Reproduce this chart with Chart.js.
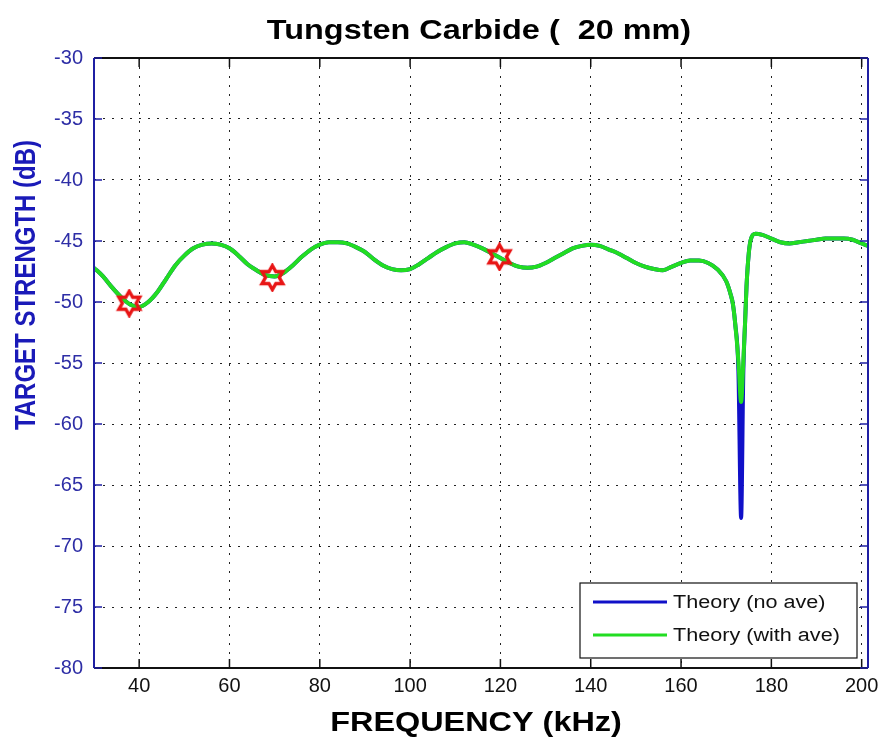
<!DOCTYPE html>
<html>
<head>
<meta charset="utf-8">
<title>Tungsten Carbide (20 mm)</title>
<script src="https://cdn.jsdelivr.net/npm/chart.js@4.4.1/dist/chart.umd.min.js"></script>
<style>
  html, body { margin: 0; padding: 0; background: #fff; overflow: hidden; }
  canvas { display: block; }
</style>
</head>
<body>
<canvas id="tsChart" width="881" height="737"></canvas>
<script>
// frequency samples (kHz)
var freq = [30, 32, 34, 36, 38, 40, 42, 44, 46, 48, 50, 52, 54, 56, 58, 60,
  62, 64, 66, 68, 70, 72, 74, 76, 78, 80, 82, 84, 86, 88, 90, 92, 94, 96, 98,
  100, 102, 104, 106, 108, 110, 112, 114, 116, 118, 120, 122, 124, 126, 128,
  130, 132, 134, 136, 138, 140, 142, 144, 146, 148, 150, 152, 154, 156, 158,
  160, 162, 164, 166, 168, 170, 171, 171.5, 172, 172.7, 173.3, 173.8, 174.2,
  174.5, 175, 175.5, 176.5, 178, 180, 182, 184, 186, 188, 190, 192, 194, 196,
  198, 200, 201.4];

// target strength, averaged theory (dB)
var tsWithAve = [-47.2, -47.9, -48.8, -49.6, -50.2, -50.4, -50.0, -49.2, -48.1,
  -47.0, -46.2, -45.6, -45.3, -45.2, -45.3, -45.6, -46.2, -46.9, -47.4, -47.8,
  -47.9, -47.6, -47.0, -46.3, -45.7, -45.3, -45.1, -45.1, -45.2, -45.5, -45.9,
  -46.5, -47.0, -47.3, -47.4, -47.3, -46.9, -46.4, -45.9, -45.5, -45.2, -45.1,
  -45.3, -45.6, -46.0, -46.4, -46.8, -47.1, -47.2, -47.1, -46.8, -46.4, -46.0,
  -45.6, -45.4, -45.3, -45.4, -45.7, -46.0, -46.4, -46.8, -47.1, -47.3, -47.4,
  -47.1, -46.8, -46.6, -46.6, -46.8, -47.3, -48.3, -49.4, -50.2, -51.8, -54.8,
  -58.2, -54.8, -51.5, -48.7, -46.0, -44.8, -44.4, -44.5, -44.8, -45.1, -45.2,
  -45.1, -45.0, -44.9, -44.8, -44.8, -44.8, -44.9, -45.2, -45.4];

// target strength, theory without averaging (dB)
var tsNoAve = [-47.2, -47.9, -48.8, -49.6, -50.2, -50.4, -50.0, -49.2, -48.1,
  -47.0, -46.2, -45.6, -45.3, -45.2, -45.3, -45.6, -46.2, -46.9, -47.4, -47.8,
  -47.9, -47.6, -47.0, -46.3, -45.7, -45.3, -45.1, -45.1, -45.2, -45.5, -45.9,
  -46.5, -47.0, -47.3, -47.4, -47.3, -46.9, -46.4, -45.9, -45.5, -45.2, -45.1,
  -45.3, -45.6, -46.0, -46.4, -46.8, -47.1, -47.2, -47.1, -46.8, -46.4, -46.0,
  -45.6, -45.4, -45.3, -45.4, -45.7, -46.0, -46.4, -46.8, -47.1, -47.3, -47.4,
  -47.1, -46.8, -46.6, -46.6, -46.8, -47.3, -48.3, -49.4, -50.2, -51.8, -55.6,
  -67.7, -55.6, -51.5, -48.7, -46.0, -44.8, -44.4, -44.5, -44.8, -45.1, -45.2,
  -45.1, -45.0, -44.9, -44.8, -44.8, -44.8, -44.9, -45.2, -45.4];

// measured points (hexagram markers)
var markFreq = [37.8, 69.5, 119.8];
var markTs = [-50.1, -48.0, -46.3];

var xTicks = [40, 60, 80, 100, 120, 140, 160, 180, 200];
var yTicks = [-80, -75, -70, -65, -60, -55, -50, -45, -40, -35, -30];

var axisBlue = '#1f1fa3';
var labelFont = 'Liberation Sans';

function toXY(xs, ys) {
  return xs.map(function (x, i) { return { x: x, y: ys[i] }; });
}

// six-pointed star outline used as point style
function makeHexagram(size, color) {
  var c = document.createElement('canvas');
  c.width = size;
  c.height = size;
  var g = c.getContext('2d');
  var cx = size / 2, cy = size / 2;
  var R = size / 2 - 2.5, r = R / Math.sqrt(3);
  g.strokeStyle = color;
  g.lineWidth = 3.4;
  g.lineJoin = 'miter';
  g.beginPath();
  for (var k = 0; k < 12; k++) {
    var a = (-90 + k * 30) * Math.PI / 180;
    var rad = k % 2 === 0 ? R : r;
    var px = cx + rad * Math.cos(a), py = cy + rad * Math.sin(a);
    if (k === 0) g.moveTo(px, py); else g.lineTo(px, py);
  }
  g.closePath();
  g.stroke();
  return c;
}

// horizontally stretched text (figure was widened after export)
function wideText(ctx, text, x, y, font, color, align, rotate) {
  ctx.save();
  ctx.translate(x, y);
  ctx.scale(1.2, 1);
  if (rotate) ctx.rotate(-Math.PI / 2);
  ctx.font = font;
  ctx.fillStyle = color;
  ctx.textAlign = align;
  ctx.textBaseline = 'alphabetic';
  ctx.fillText(text, 0, 0);
  ctx.restore();
}

var matlabFrame = {
  id: 'matlabFrame',
  beforeDraw: function (chart) {
    var ctx = chart.ctx;
    ctx.save();
    ctx.fillStyle = '#fff';
    ctx.fillRect(0, 0, chart.width, chart.height);
    ctx.restore();
  },
  afterDraw: function (chart) {
    var ctx = chart.ctx;
    var a = chart.chartArea;
    var xs = chart.scales.x, ys = chart.scales.y;

    ctx.save();
    ctx.lineWidth = 2;
    // top + bottom in black, left + right in blue
    ctx.strokeStyle = '#111';
    ctx.beginPath();
    ctx.moveTo(a.left, a.top); ctx.lineTo(a.right, a.top);
    ctx.moveTo(a.left, a.bottom); ctx.lineTo(a.right, a.bottom);
    ctx.stroke();
    ctx.strokeStyle = axisBlue;
    ctx.beginPath();
    ctx.moveTo(a.left, a.top); ctx.lineTo(a.left, a.bottom);
    ctx.moveTo(a.right, a.top); ctx.lineTo(a.right, a.bottom);
    ctx.stroke();

    // inward tick marks
    ctx.lineWidth = 1.5;
    ctx.strokeStyle = '#111';
    ctx.beginPath();
    xTicks.forEach(function (v) {
      var px = xs.getPixelForValue(v);
      ctx.moveTo(px, a.bottom); ctx.lineTo(px, a.bottom - 9);
      ctx.moveTo(px, a.top); ctx.lineTo(px, a.top + 9);
    });
    ctx.stroke();
    ctx.strokeStyle = axisBlue;
    ctx.beginPath();
    yTicks.forEach(function (v) {
      var py = ys.getPixelForValue(v);
      ctx.moveTo(a.left, py); ctx.lineTo(a.left + 8, py);
      ctx.moveTo(a.right, py); ctx.lineTo(a.right - 8, py);
    });
    ctx.stroke();
    ctx.restore();

    // titles
    wideText(ctx, 'Tungsten Carbide (  20 mm)', 479, 39, 'bold 27px "' + labelFont + '"', '#000', 'center');
    wideText(ctx, 'FREQUENCY (kHz)', 476, 731, 'bold 27px "' + labelFont + '"', '#000', 'center');
    wideText(ctx, 'TARGET STRENGTH (dB)', 35, 285, 'bold 24px "' + labelFont + '"', '#1a1ab8', 'center', true);

    // legend box
    var bx = 580, by = 583, bw = 277, bh = 75;
    ctx.save();
    ctx.fillStyle = '#fff';
    ctx.fillRect(bx, by, bw, bh);
    ctx.strokeStyle = '#111';
    ctx.lineWidth = 1.2;
    ctx.strokeRect(bx, by, bw, bh);
    ctx.restore();
    [0, 1].forEach(function (i, row) {
      var ds = chart.data.datasets[i];
      var ly = by + 19 + row * 33;
      ctx.save();
      ctx.strokeStyle = ds.borderColor;
      ctx.lineWidth = 3;
      ctx.beginPath();
      ctx.moveTo(bx + 13, ly); ctx.lineTo(bx + 87, ly);
      ctx.stroke();
      ctx.restore();
      wideText(ctx, ds.label, bx + 93, ly + 6, '18px "' + labelFont + '"', '#111', 'left');
    });
  }
};

new Chart(document.getElementById('tsChart'), {
  type: 'scatter',
  data: {
    datasets: [
      {
        label: 'Theory (no ave)',
        data: toXY(freq, tsNoAve),
        showLine: true,
        borderColor: '#1010c8',
        borderWidth: 4,
        pointRadius: 0,
        cubicInterpolationMode: 'monotone',
        order: 2
      },
      {
        label: 'Theory (with ave)',
        data: toXY(freq, tsWithAve),
        showLine: true,
        borderColor: '#22dd22',
        borderWidth: 4,
        pointRadius: 0,
        cubicInterpolationMode: 'monotone',
        order: 1
      },
      {
        label: 'measured',
        data: toXY(markFreq, markTs),
        showLine: false,
        pointStyle: makeHexagram(29, '#e81515'),
        order: 0
      }
    ]
  },
  options: {
    responsive: false,
    animation: false,
    layout: { padding: { top: 58, right: 13, bottom: 0, left: 0 } },
    plugins: {
      legend: { display: false },
      title: { display: false },
      tooltip: { enabled: false }
    },
    scales: {
      x: {
        type: 'linear',
        min: 30,
        max: 201.4,
        afterBuildTicks: function (axis) {
          axis.ticks = xTicks.map(function (v) { return { value: v }; });
        },
        afterFit: function (axis) {
          axis.height = 69;
          axis.paddingLeft = 0;
          axis.paddingRight = 0;
        },
        grid: { color: '#222', lineWidth: 1, drawTicks: false },
        border: { display: false, dash: [2, 7] },
        ticks: {
          color: '#111',
          font: { family: labelFont, size: 20 },
          padding: 6,
          maxRotation: 0,
          autoSkip: false
        }
      },
      y: {
        min: -80,
        max: -30,
        afterBuildTicks: function (axis) {
          axis.ticks = yTicks.map(function (v) { return { value: v }; });
        },
        afterFit: function (axis) {
          axis.width = 94;
          axis.paddingTop = 0;
          axis.paddingBottom = 0;
        },
        grid: { color: '#222', lineWidth: 1, drawTicks: false },
        border: { display: false, dash: [2, 7] },
        ticks: {
          color: '#2e2ea6',
          font: { family: labelFont, size: 20 },
          padding: 11,
          autoSkip: false
        }
      }
    }
  },
  plugins: [matlabFrame]
});
</script>
</body>
</html>
